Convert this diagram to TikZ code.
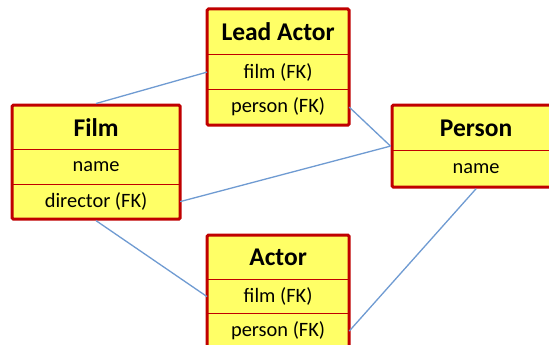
\documentclass[tikz,border=0pt]{standalone}
\usepackage{fontspec}
\setmainfont{Carlito}
\usetikzlibrary{fit}
\definecolor{boxfill}{HTML}{FFFF66}
\definecolor{boxred}{HTML}{C00000}
\definecolor{linkblue}{HTML}{6F9BD2}
\tikzset{
  row/.style={draw=boxred, line width=1.2pt, fill=boxfill, inner sep=0pt, anchor=north west, font=\fontsize{20.4}{22}\selectfont},
  titlerow/.style={row, font=\bfseries\fontsize{25.5}{28}\selectfont},
  outer/.style={draw=boxred, line width=3pt, rounded corners=1.5pt, inner sep=0pt},
  link/.style={draw=linkblue, line width=1.3pt},
}
\begin{document}
\begin{tikzpicture}[x=1pt, y=-1pt]
\useasboundingbox (0,0) rectangle (549,345);
\fill[white] (0,0) rectangle (549,345);
% Film
\node[titlerow, minimum width=167pt, minimum height=44pt] (film-t) at (12,105) {Film};
\node[row, minimum width=167pt, minimum height=35pt] (film-n) at (12,149) {name};
\node[row, minimum width=167pt, minimum height=34pt] (film-d) at (12,184) {director (FK)};
\node[outer, fit=(film-t)(film-d)] (film) {};
% Lead Actor
\node[titlerow, minimum width=141pt, minimum height=45pt] (la-t) at (207,9) {Lead Actor};
\node[row, minimum width=141pt, minimum height=35pt] (la-f) at (207,54) {film (FK)};
\node[row, minimum width=141pt, minimum height=35pt] (la-p) at (207,89) {person (FK)};
\node[outer, fit=(la-t)(la-p)] (la) {};
% Person
\node[titlerow, minimum width=167pt, minimum height=45pt] (pe-t) at (392,105) {Person};
\node[row, minimum width=167pt, minimum height=36pt] (pe-n) at (392,150) {name};
\node[outer, fit=(pe-t)(pe-n)] (person) {};
% Actor
\node[titlerow, minimum width=141pt, minimum height=44pt] (ac-t) at (207,235) {Actor};
\node[row, minimum width=141pt, minimum height=34pt] (ac-f) at (207,279) {film (FK)};
\node[row, minimum width=141pt, minimum height=35pt] (ac-p) at (207,313) {person (FK)};
\node[outer, fit=(ac-t)(ac-p)] (actor) {};
% links
\draw[link] (film.north) -- (la-f.west);
\draw[link] (la-p.east) -- (person.west);
\draw[link] (film-d.east) -- (person.west);
\draw[link] (film.south) -- (ac-f.west);
\draw[link] (ac-p.east) -- (person.south);
\end{tikzpicture}
\end{document}
